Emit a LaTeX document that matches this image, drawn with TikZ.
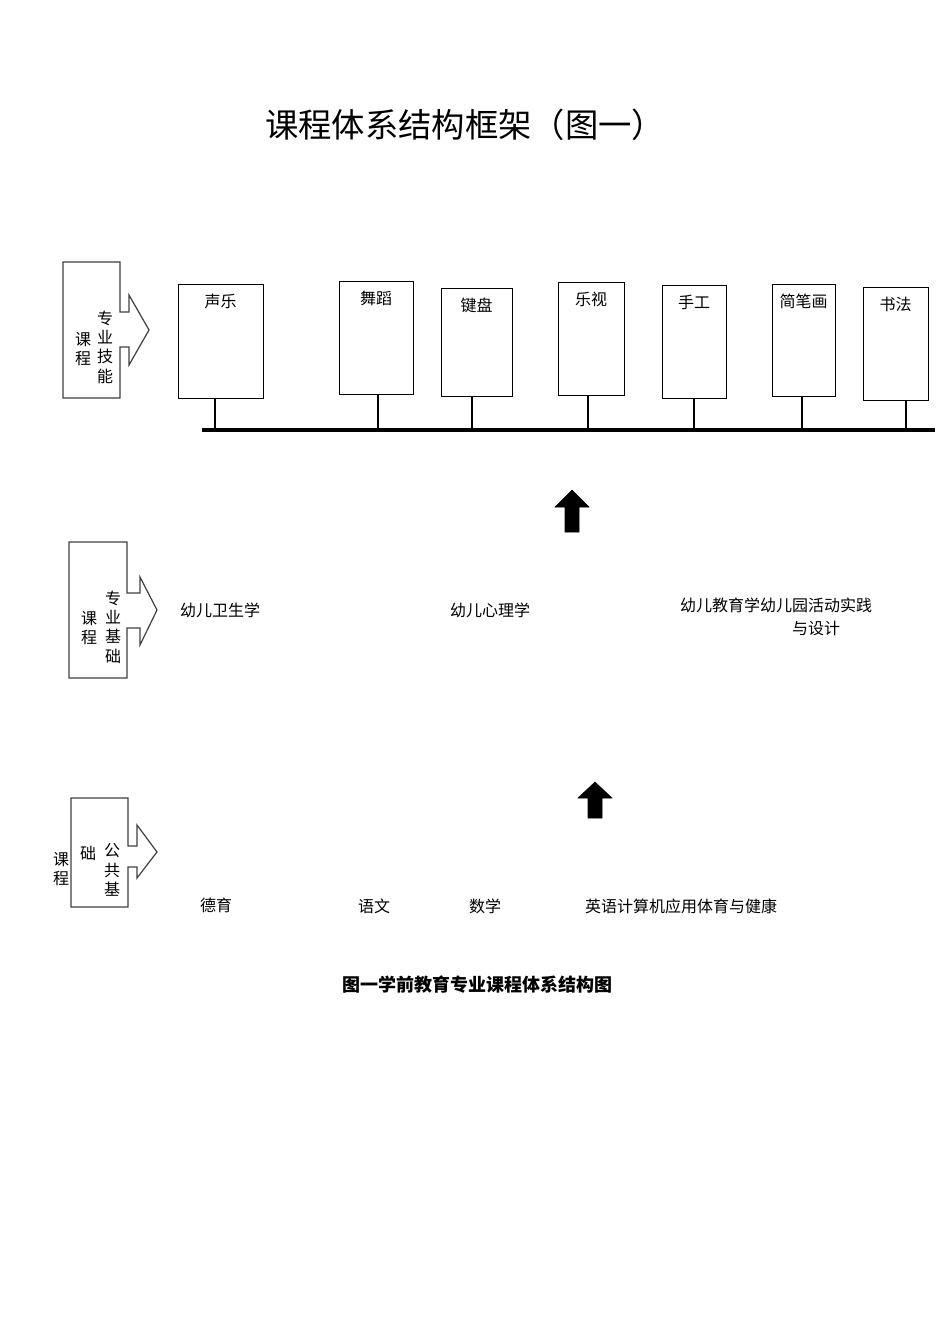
\documentclass[tikz,border=0pt]{standalone}
\usepackage{fontspec}
\setmainfont{Noto Sans CJK SC}
\newfontfamily\cjk{Noto Sans CJK SC}
\begin{document}
\begin{tikzpicture}[x=0.75pt,y=-0.75pt,
  callout/.style={draw=black!75,line width=0.9pt,fill=white},
  course/.style={draw=black,line width=0.9pt,fill=white},
  lbl/.style={inner sep=0pt,font=\fontsize{12}{14}\selectfont},
  vlbl/.style={inner sep=0pt,align=center,font=\fontsize{12}{14.5}\selectfont},
  stem/.style={line width=1.6pt},
  uparrow/.style={fill=black}]
\useasboundingbox (0,0) rectangle (950,1344);
\node[inner sep=0pt,font=\fontsize{25}{30}\selectfont] (title) at (465,125) {课程体系结构框架（图一）};
% callouts
\draw[callout] (63,262)--(120,262)--(120,312)--(129,312)--(129,295)--(149,330)--(129,365)--(129,347)--(120,347)--(120,398)--(63,398)--cycle;
\node[vlbl] (c1a) at (105,347) {专\\业\\技\\能};
\node[vlbl] (c1b) at (83,349) {课\\程};
\draw[callout] (69,542)--(127,542)--(127,593)--(140,593)--(140,577)--(157,610)--(140,645)--(140,628)--(127,628)--(127,678)--(69,678)--cycle;
\node[vlbl] (c2a) at (113,627) {专\\业\\基\\础};
\node[vlbl] (c2b) at (89,628) {课\\程};
\draw[callout] (71,798)--(128,798)--(128,846)--(137,846)--(137,825)--(157,852)--(137,878)--(137,867)--(128,867)--(128,907)--(71,907)--cycle;
\node[vlbl] (c3a) at (112,870) {公\\共\\基};
\node[vlbl] (c3b) at (88,853) {础};
\node[vlbl] (c3c) at (61,869) {课\\程};
% bus
\coordinate (busL) at (202,430);
\coordinate (busR) at (935,430);
\draw[line width=2.6pt] (busL)--(busR);
% course boxes
\foreach \n/\t/\l/\tp/\r/\b/\sx in {a/声乐/178/284/263/398/215, b/舞蹈/339/281/413/394/378, c/键盘/441/288/512/396/472, d/乐视/558/282/624/395/588, e/手工/662/285/726/398/694, f/简笔画/772/284/835/396/802, g/书法/863/287/928/400/906}{
  \draw[stem] (\sx,\b)--(\sx,430);
  \node[course,minimum width={(\r-\l)*0.75pt},minimum height={(\b-\tp)*0.75pt},anchor=north west] (box\n) at (\l,\tp) {};
  \node[lbl,anchor=north] (t\n) at ({(\l+\r)/2},{\tp+10}) {\t};
}
% up arrows
\draw[uparrow] (572,490)--(589,507)--(579,507)--(579,532)--(565,532)--(565,507)--(555,507)--cycle;
\draw[uparrow] (595,782)--(612,798)--(602,798)--(602,818)--(588,818)--(588,798)--(578,798)--cycle;
% texts
\node[lbl] (m1) at (220,610) {幼儿卫生学};
\node[lbl] (m2) at (490,610) {幼儿心理学};
\node[lbl] (m3) at (776,605) {幼儿教育学幼儿园活动实践};
\node[lbl] (m4) at (816,628) {与设计};
\node[lbl] (p1) at (216,905) {德育};
\node[lbl] (p2) at (374,906) {语文};
\node[lbl] (p3) at (485,906) {数学};
\node[lbl] (p4) at (681,906) {英语计算机应用体育与健康};
\node[inner sep=0pt,font=\fontsize{13.5}{16}\selectfont\bfseries] (cap) at (477,985) {图一学前教育专业课程体系结构图};
\end{tikzpicture}
\end{document}
